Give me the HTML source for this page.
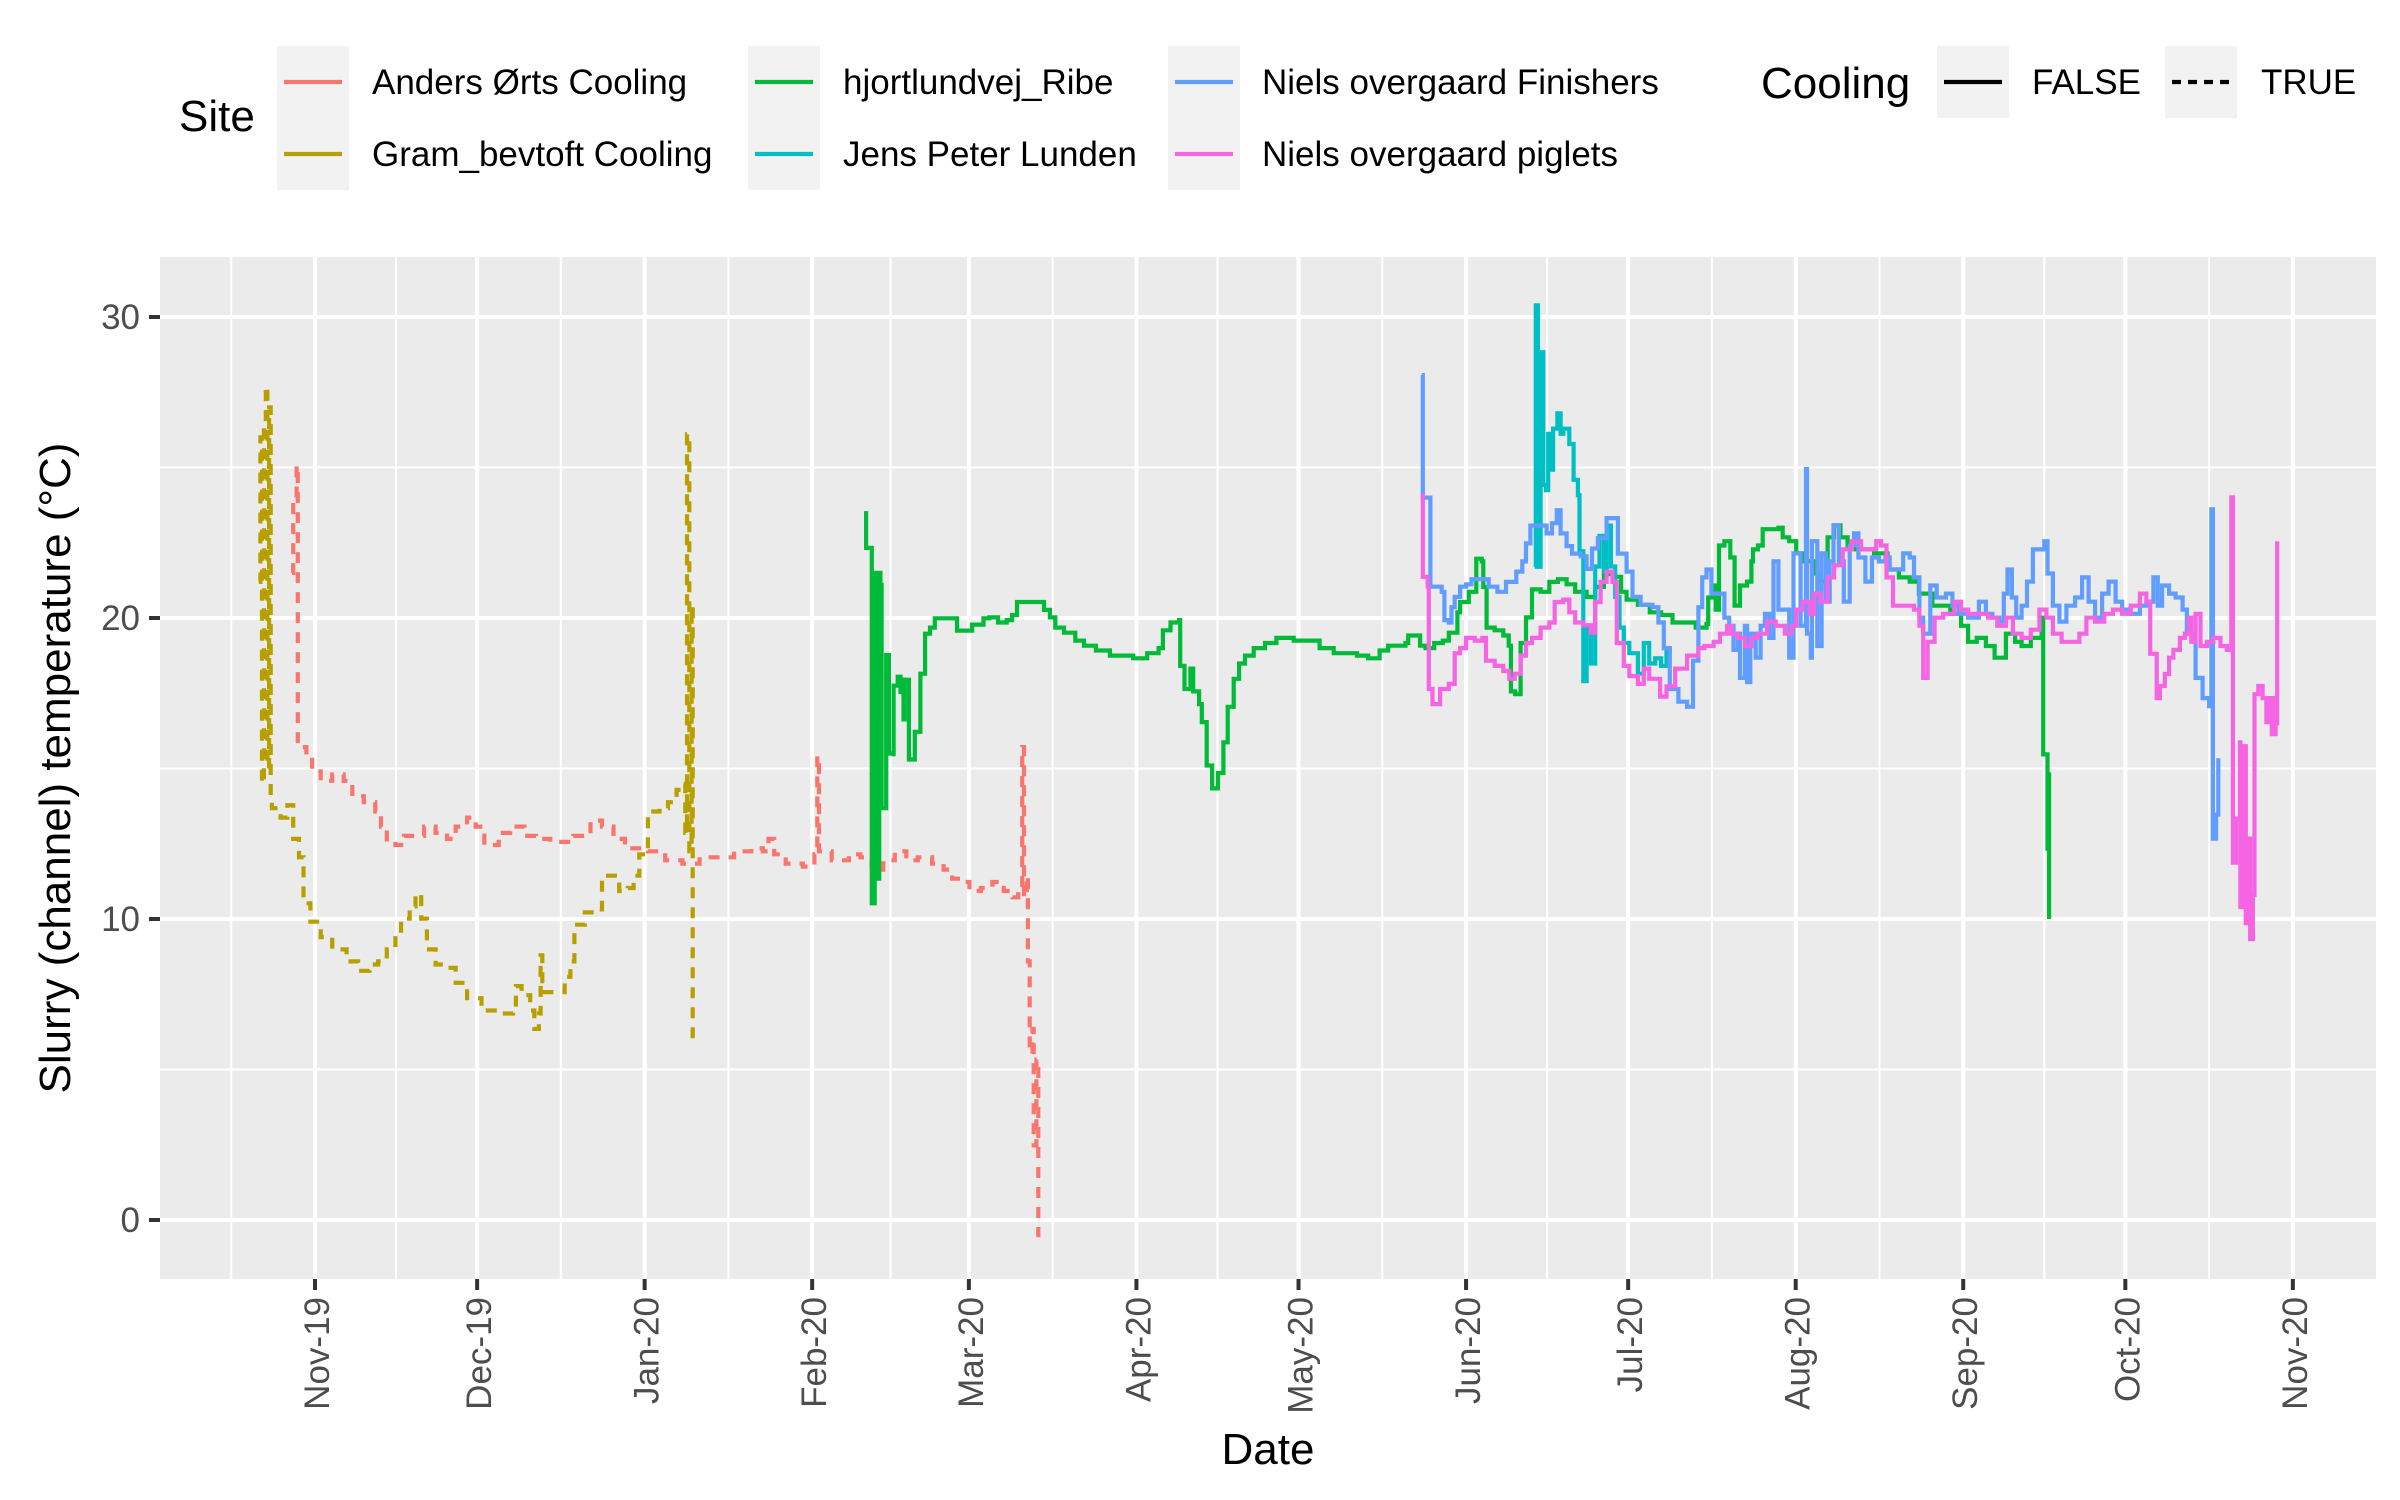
<!DOCTYPE html>
<html><head><meta charset="utf-8"><style>
html,body{margin:0;padding:0;background:#fff}
svg{display:block;font-family:"Liberation Sans",Arial,sans-serif}
</style></head><body>
<svg id="chart" width="2400" height="1500" viewBox="0 0 2400 1500" xmlns="http://www.w3.org/2000/svg">
<rect x="0" y="0" width="2400" height="1500" fill="#fff"/>
<rect x="160" y="257" width="2216" height="1022" fill="#EBEBEB"/>
<g id="grid"></g>
<g id="series"></g>
<g id="axes"></g>
<text transform="translate(70,768) rotate(-90)" text-anchor="middle" font-size="44" fill="#000">Slurry (channel) temperature (°C)</text>
<text x="1268" y="1464" text-anchor="middle" font-size="44" fill="#000">Date</text>
<g id="legend">
<text x="179" y="131" font-size="44">Site</text>
<text x="1761" y="98" font-size="44">Cooling</text>
</g>
</svg>
<script>
const monthLabels=["Nov-19","Dec-19","Jan-20","Feb-20","Mar-20","Apr-20","May-20","Jun-20","Jul-20","Aug-20","Sep-20","Oct-20","Nov-20"];
const monthDays=[0,30,61,92,121,152,182,213,243,274,305,335,366];
const yTicks=[0,10,20,30];
const yMinor=[5,15,25];
const seriesNames=["Anders Ørts Cooling","Gram_bevtoft Cooling","hjortlundvej_Ribe","Jens Peter Lunden","Niels overgaard Finishers","Niels overgaard piglets"];
const seriesCooling=[true,true,false,false,false,false];
const andersPts=[[-4.25,21.5],[-4.04,23.75],[-3.4,25.07],[-3.19,15.71],[-1.59,15.41],[-0.53,14.9],[1.06,14.59],[3.19,14.8],[5.31,14.59],[6.9,14.08],[9.03,13.88],[11.15,13.57],[12.21,13.07],[13.28,12.56],[14.87,12.46],[16.46,12.76],[18.59,12.76],[20.18,13.07],[22.31,12.86],[24.43,12.66],[26.03,13.07],[28.15,13.37],[29.74,13.07],[31.33,12.46],[33.99,12.86],[36.12,13.07],[38.77,12.76],[40.9,12.66],[43.55,12.56],[45.68,12.56],[47.8,12.76],[50.99,13.27],[53.11,13.07],[55.24,12.66],[57.36,12.35],[59.49,12.35],[61.61,12.25],[64.8,11.95],[67.98,11.84],[71.17,12.05],[74.36,12.05],[77.55,12.25],[80.73,12.35],[82.86,12.25],[83.92,12.66],[84.98,12.15],[87.1,11.84],[90.29,11.74],[92.41,12.15],[92.95,15.41],[93.27,12.25],[95.61,11.95],[98.79,12.15],[100.92,12.05],[103.04,11.64],[105.17,11.95],[107.29,12.25],[109.42,11.95],[111.54,12.05],[114.19,11.84],[116.32,11.64],[117.91,11.34],[120.04,11.23],[121.1,10.93],[123.22,11.03],[125.35,11.23],[127.47,10.93],[129.07,10.72],[130.13,10.93],[130.87,15.71],[131.19,10.72],[131.72,11.44],[131.93,8.59],[132.25,5.53],[132.78,6.35],[133.0,2.48],[133.5,5.33],[133.84,-0.57]];
const gramPts=[[-10.4,21.2],[-10.1,26],[-9.8,14.5],[-9.45,26.5],[-9.1,27.7],[-8.8,15],[-8.5,27],[-8.2,14],[-7.97,13.68],[-6.37,13.37],[-5.1,13.78],[-4.04,12.66],[-2.97,12.05],[-2.12,10.52],[-0.85,9.91],[1.06,9.4],[3.19,8.99],[5.84,8.59],[7.97,8.28],[10.09,8.49],[11.68,8.59],[13.28,8.99],[14.87,9.5],[15.93,10.01],[17.53,10.42],[18.59,10.83],[19.65,10.01],[20.71,8.99],[22.31,8.49],[24.43,8.38],[26.03,7.88],[28.15,7.37],[30.81,6.96],[33.99,6.86],[36.65,6.96],[37.18,7.77],[38.24,7.47],[39.83,6.96],[40.58,6.35],[41.43,6.86],[41.75,8.79],[42.07,7.57],[44.61,7.57],[46.21,8.08],[47.27,8.59],[48.01,9.81],[49.93,10.22],[52.05,10.32],[53.11,11.44],[54.71,11.44],[56.3,10.93],[57.89,11.03],[58.95,11.44],[60.02,12.15],[61.61,13.57],[63.74,13.68],[65.33,13.88],[66.92,14.29],[67.98,14.49],[68.52,12.86],[68.83,26.1],[69.26,12.25],[69.69,20.4],[69.9,5.84]];
const hjortPts=[[101.98,23.55],[101.98,22.33],[103.04,22.33],[103.04,10.52],[103.57,21.5],[103.89,11.34],[104.4,21.5],[104.63,21.1],[104.84,13.68],[105.7,18.77],[106.2,15.5],[107.07,15.41],[107.07,17.75],[107.82,18.05],[108.35,17.54],[108.9,16.63],[109.1,17.95],[109.9,17.85],[109.9,15.3],[111.0,15.5],[111.0,16.22],[112.03,16.32],[112.03,18.15],[112.9,18.46],[112.9,19.48],[113.8,19.68],[114.7,19.99],[117.9,19.99],[118.8,19.58],[120.0,19.58],[121.6,19.78],[123.7,19.99],[124.8,20.02],[126.4,19.85],[128.0,19.93],[129.0,20.1],[129.9,20.53],[133.8,20.53],[134.9,20.27],[136.0,20.02],[137.0,19.68],[138.6,19.51],[140.7,19.25],[142.3,19.08],[144.5,18.92],[147.1,18.75],[149.2,18.75],[151.4,18.66],[153.0,18.66],[154.0,18.83],[156.1,19.0],[156.9,19.59],[158.3,19.85],[159.9,19.93],[160.1,18.41],[160.9,17.64],[162.0,18.32],[162.5,17.56],[163.6,17.14],[164.1,16.54],[165.0,15.1],[166.0,14.85],[166.0,14.34],[166.8,14.34],[167.1,14.85],[168.1,15.87],[168.9,17.05],[170.0,17.98],[171.0,18.49],[172.1,18.75],[173.7,19.0],[175.8,19.17],[177.9,19.34],[181.1,19.25],[183.2,19.25],[185.9,19.0],[188.5,18.83],[192.8,18.75],[194.9,18.66],[197.0,18.92],[198.6,19.08],[201.8,19.17],[202.3,19.42],[203.9,19.42],[204.5,19.08],[205.5,19.0],[207.1,19.17],[208.7,19.25],[209.8,19.51],[211.4,20.19],[211.9,20.53],[213.5,20.87],[214.9,21.97],[215.9,21.88],[216.2,21.03],[216.8,19.68],[218.3,19.59],[219.9,19.42],[220.9,19.08],[221.3,17.56],[222.1,17.47],[223.1,19.17],[224.1,20.02],[225.2,20.95],[226.8,20.87],[228.4,21.2],[230.0,21.29],[231.6,21.12],[233.2,20.87],[235.3,20.7],[236.9,21.03],[238.5,21.46],[240.1,21.37],[241.7,20.87],[242.7,20.61],[244.8,20.44],[247.0,20.19],[249.1,20.1],[251.2,19.85],[255.5,19.68],[257.5,19.8],[257.8,20.68],[258.8,21.08],[259.2,20.28],[259.8,22.41],[260.8,22.55],[261.9,22.01],[262.7,20.41],[263.7,21.08],[265.0,21.21],[265.8,21.88],[266.1,22.28],[267.0,22.41],[267.9,22.95],[270.8,23.0],[271.6,22.68],[272.8,22.55],[274.1,22.15],[275.3,21.88],[277.4,21.48],[278.6,21.21],[279.9,22.68],[281.1,23.08],[282.3,22.68],[283.6,22.28],[286.1,22.28],[288.5,22.15],[291.0,21.61],[293.1,21.35],[295.1,21.21],[296.8,20.81],[299.3,20.41],[302.6,20.14],[304.6,19.74],[305.9,19.21],[307.5,19.34],[309.2,19.07],[310.8,18.68],[312.1,18.68],[312.9,19.48],[314.6,19.21],[315.8,19.07],[317.5,19.34],[319.5,20.01],[319.8,15.47],[320.6,12.27],[320.6,14.8],[320.9,10.0]];
const jensPts=[[225.7,21.7],[225.9,30.39],[226.3,21.7],[226.8,28.83],[227.3,24.42],[227.8,24.25],[228.2,26.12],[228.7,24.93],[229.1,26.29],[229.9,26.8],[230.5,26.12],[231.0,26.29],[232.1,25.78],[232.9,24.59],[233.7,24.08],[234.0,22.22],[234.7,17.9],[235.3,19.68],[236.1,18.49],[236.9,21.71],[237.7,22.73],[238.5,21.54],[239.0,23.07],[239.8,21.71],[240.6,20.7],[241.4,19.68],[242.2,19.17],[243.2,18.83],[244.8,18.15],[245.9,19.17],[246.9,18.49],[248.0,18.66],[249.1,18.41],[250.1,18.92],[250.7,19.0]];
const finPts=[[204.8,28.07],[205.0,24.0],[206.4,21.04],[207.7,21.04],[208.5,20.87],[209.0,19.93],[209.8,19.85],[210.3,20.36],[210.9,20.7],[211.9,21.04],[213.0,21.12],[214.0,21.29],[215.6,21.29],[217.2,21.04],[218.8,20.87],[220.4,21.2],[222.3,21.54],[223.4,21.88],[224.1,22.48],[224.9,23.07],[226.8,23.07],[227.9,22.81],[228.9,23.15],[229.8,23.58],[230.5,22.81],[231.6,22.39],[232.6,22.14],[234.2,22.05],[235.3,21.63],[236.3,22.31],[237.4,22.65],[239.0,23.32],[240.1,23.32],[241.1,22.14],[242.7,21.54],[243.8,20.7],[245.3,20.44],[247.5,20.36],[248.6,19.85],[249.6,19.0],[250.7,17.64],[252.3,17.22],[253.9,17.05],[255.0,18.58],[256.0,20.36],[256.7,21.35],[257.5,21.61],[258.4,20.81],[259.6,20.81],[260.8,20.01],[261.7,19.74],[262.5,18.94],[263.3,19.48],[263.7,18.01],[264.6,19.74],[265.0,17.87],[265.6,19.48],[266.6,18.68],[267.5,19.74],[268.3,20.14],[269.1,19.34],[269.9,21.88],[270.8,20.28],[272.0,20.28],[272.8,18.68],[273.6,22.15],[274.9,19.74],[275.9,24.95],[276.1,19.48],[276.8,18.68],[277.0,22.55],[278.0,19.07],[278.8,22.15],[279.6,20.54],[280.3,21.88],[281.0,23.08],[282.0,21.88],[282.9,20.54],[284.0,22.41],[284.8,22.81],[285.6,22.01],[286.9,21.21],[288.1,22.01],[289.4,21.88],[290.6,22.01],[291.4,21.61],[292.7,21.61],[293.9,22.15],[295.1,22.01],[295.9,21.35],[296.9,20.01],[297.6,19.48],[298.9,21.08],[300.1,20.68],[301.8,20.81],[303.0,20.41],[304.2,20.14],[305.9,20.01],[307.9,20.54],[309.2,20.14],[310.4,20.01],[311.7,19.88],[312.5,20.81],[313.2,21.61],[314.0,20.68],[314.8,20.01],[315.8,20.41],[316.8,21.21],[317.9,22.28],[319.5,22.28],[320.0,22.55],[320.6,21.48],[321.6,20.41],[322.8,19.88],[324.1,20.41],[325.7,20.68],[327.0,21.35],[328.2,20.54],[329.4,20.01],[330.7,20.81],[331.9,21.21],[333.2,20.54],[334.4,20.28],[335.6,20.14],[337.7,20.41],[338.9,20.54],[340.2,21.35],[341.0,20.41],[341.8,21.08],[343.1,20.81],[344.3,20.68],[345.6,20.28],[346.4,19.48],[347.6,19.21],[348.0,18.01],[349.3,17.34],[350.5,17.07],[350.9,23.61],[351.2,12.67],[351.8,13.47],[352.2,15.34],[352.2,13.47]];
const pigPts=[[204.8,24.08],[205.0,21.37],[205.9,21.04],[206.1,17.64],[206.6,17.64],[206.8,17.14],[207.9,17.14],[208.2,17.64],[209.8,17.81],[210.9,18.83],[211.9,19.0],[213.0,19.34],[214.6,19.25],[216.0,19.34],[216.7,18.58],[218.3,18.41],[219.9,18.24],[221.0,17.98],[222.0,18.15],[223.1,18.75],[224.1,19.17],[225.2,19.34],[226.8,19.68],[228.4,19.85],[229.4,20.53],[231.0,20.61],[232.1,20.19],[233.2,19.85],[234.7,19.76],[236.1,19.51],[236.9,20.53],[237.9,21.2],[239.0,21.54],[240.1,21.2],[240.9,19.17],[242.2,18.41],[243.2,18.07],[244.8,17.81],[245.9,18.32],[246.9,17.98],[248.9,17.39],[250.1,17.73],[251.7,18.32],[253.9,18.75],[256.0,19.0],[257.1,19.07],[258.8,19.21],[260.0,19.48],[261.3,19.74],[262.1,19.48],[263.3,19.34],[264.6,19.07],[265.8,19.34],[267.0,19.48],[268.7,19.88],[270.3,19.74],[272.0,19.48],[273.2,19.74],[274.1,20.28],[275.3,20.54],[276.6,20.14],[277.4,20.81],[278.6,20.54],[279.9,21.35],[281.1,21.75],[282.7,22.28],[284.4,22.55],[286.1,22.28],[287.7,22.28],[288.9,22.55],[289.8,22.41],[290.8,21.35],[292.0,20.41],[294.3,20.41],[295.9,20.28],[296.9,19.74],[297.6,18.01],[298.4,19.21],[299.3,19.21],[299.7,20.01],[301.3,20.14],[302.6,20.14],[303.4,20.54],[304.6,20.28],[305.9,20.14],[307.9,20.14],[309.6,20.01],[311.3,19.74],[312.9,20.01],[314.2,19.48],[315.8,19.34],[317.5,19.61],[319.1,20.28],[320.4,20.01],[321.6,19.48],[323.2,19.21],[325.3,19.21],[326.5,19.48],[327.8,20.01],[329.4,19.88],[331.1,20.14],[332.7,20.28],[334.4,20.14],[336.0,20.41],[337.7,20.81],[338.9,20.54],[339.6,18.81],[340.8,17.34],[341.4,17.74],[342.3,18.14],[343.1,18.68],[343.9,18.94],[345.1,19.34],[346.0,19.48],[346.8,20.01],[347.2,19.21],[348.0,20.14],[348.9,19.07],[350.1,19.21],[351.3,19.34],[352.6,19.07],[353.8,18.94],[354.6,24.01],[354.9,11.87],[355.5,13.34],[356.2,15.87],[356.3,10.4],[357.0,15.74],[357.3,9.86],[357.8,12.67],[358.1,9.33],[358.6,10.8],[358.9,17.47],[359.6,17.74],[360.4,17.34],[361.1,16.54],[361.7,17.34],[362.1,16.14],[362.8,17.34],[362.9,16.5],[363.1,22.55]];
const seriesPts=[andersPts,gramPts,hjortPts,jensPts,finPts,pigPts];
const seriesColors=["#F8766D","#B79F00","#00BA38","#00BFC4","#619CFF","#F564E3"];

const NS="http://www.w3.org/2000/svg";
const X0=315, PXD=5.404, Y0=1220, PXT=30.1;
const PL=160, PR=2376, PT=257, PB=1279;
function xs(d){return X0+d*PXD;}
function ys(t){return Y0-t*PXT;}
function mk(tag,attrs,parent){const e=document.createElementNS(NS,tag);for(const k in attrs)e.setAttribute(k,attrs[k]);parent.appendChild(e);return e;}

const grid=document.getElementById('grid');
yMinor.forEach(v=>{const l=mk('line',{x1:PL,x2:PR,y1:ys(v),y2:ys(v),stroke:'#fff','stroke-width':2},grid);

});
const xMinor=[-15.5];
for(let i=0;i<monthDays.length-1;i++)xMinor.push((monthDays[i]+monthDays[i+1])/2);
xMinor.push(381.5);
xMinor.forEach(d=>{const x=xs(d);if(x<PL||x>PR)return;const l=mk('line',{x1:x,x2:x,y1:PT,y2:PB,stroke:'#fff','stroke-width':2},grid);

});
yTicks.forEach(v=>{const l=mk('line',{x1:PL,x2:PR,y1:ys(v),y2:ys(v),stroke:'#fff','stroke-width':4},grid);

});
monthDays.forEach(d=>{const l=mk('line',{x1:xs(d),x2:xs(d),y1:PT,y2:PB,stroke:'#fff','stroke-width':4},grid);

});

const ser=document.getElementById('series');
seriesPts.forEach((pts,i)=>{
  let d='M'+xs(pts[0][0]).toFixed(1)+' '+ys(pts[0][1]).toFixed(1);
  for(let j=1;j<pts.length;j++){
    d+=' H'+xs(pts[j][0]).toFixed(1)+' V'+ys(pts[j][1]).toFixed(1);
  }
  const attrs={d:d,fill:'none',stroke:seriesColors[i],'stroke-width':4.2,'stroke-linejoin':'miter'};
  if(seriesCooling[i])attrs['stroke-dasharray']='11 9';
  const p=mk('path',attrs,ser);
  
  
});

const ax=document.getElementById('axes');
yTicks.forEach(v=>{
  const t=mk('line',{x1:149,x2:PL,y1:ys(v),y2:ys(v),stroke:'#333','stroke-width':4},ax);
  
  
  const l=mk('text',{x:140,y:ys(v)+12,'text-anchor':'end','font-size':35,fill:'#4D4D4D'},ax);
  l.textContent=String(v);
  
  
});
monthDays.forEach((d,i)=>{
  const x=xs(d);
  const t=mk('line',{x1:x,x2:x,y1:PB,y2:PB+11,stroke:'#333','stroke-width':4},ax);
  
  
  const l=mk('text',{transform:'translate('+(x+14)+','+(PB+18)+') rotate(-90)','text-anchor':'end','font-size':35,fill:'#4D4D4D'},ax);
  l.textContent=monthLabels[i];
  
  
});

const lg=document.getElementById('legend');
const keyCols=[[277,372],[748,843],[1168,1262]];
seriesNames.forEach((n,i)=>{
  const c=Math.floor(i/2), r=i%2;
  const kx=keyCols[c][0], ky=46+r*72;
  const bx=mk('rect',{x:kx,y:ky,width:72,height:72,fill:'#F2F2F2'},lg);
  
  
  const ln=mk('line',{x1:kx+7,x2:kx+65,y1:ky+36,y2:ky+36,stroke:seriesColors[i],'stroke-width':4.2},lg);
  
  
  const tx=mk('text',{x:keyCols[c][1],y:ky+48,'font-size':35,fill:'#000'},lg);
  tx.textContent=n;
  
  
});
const coolKeys=[[1937,2032,'FALSE',null],[2165,2261,'TRUE','9 7']];
coolKeys.forEach(k=>{
  const bx=mk('rect',{x:k[0],y:46,width:72,height:72,fill:'#F2F2F2'},lg);
  
  
  const a={x1:k[0]+7,x2:k[0]+65,y1:82,y2:82,stroke:'#000','stroke-width':4.2};
  if(k[3])a['stroke-dasharray']=k[3];
  const ln=mk('line',a,lg);
  
  
  const tx=mk('text',{x:k[1],y:94,'font-size':35,fill:'#000'},lg);
  tx.textContent=k[2];
  
  
});
</script>
</body></html>
